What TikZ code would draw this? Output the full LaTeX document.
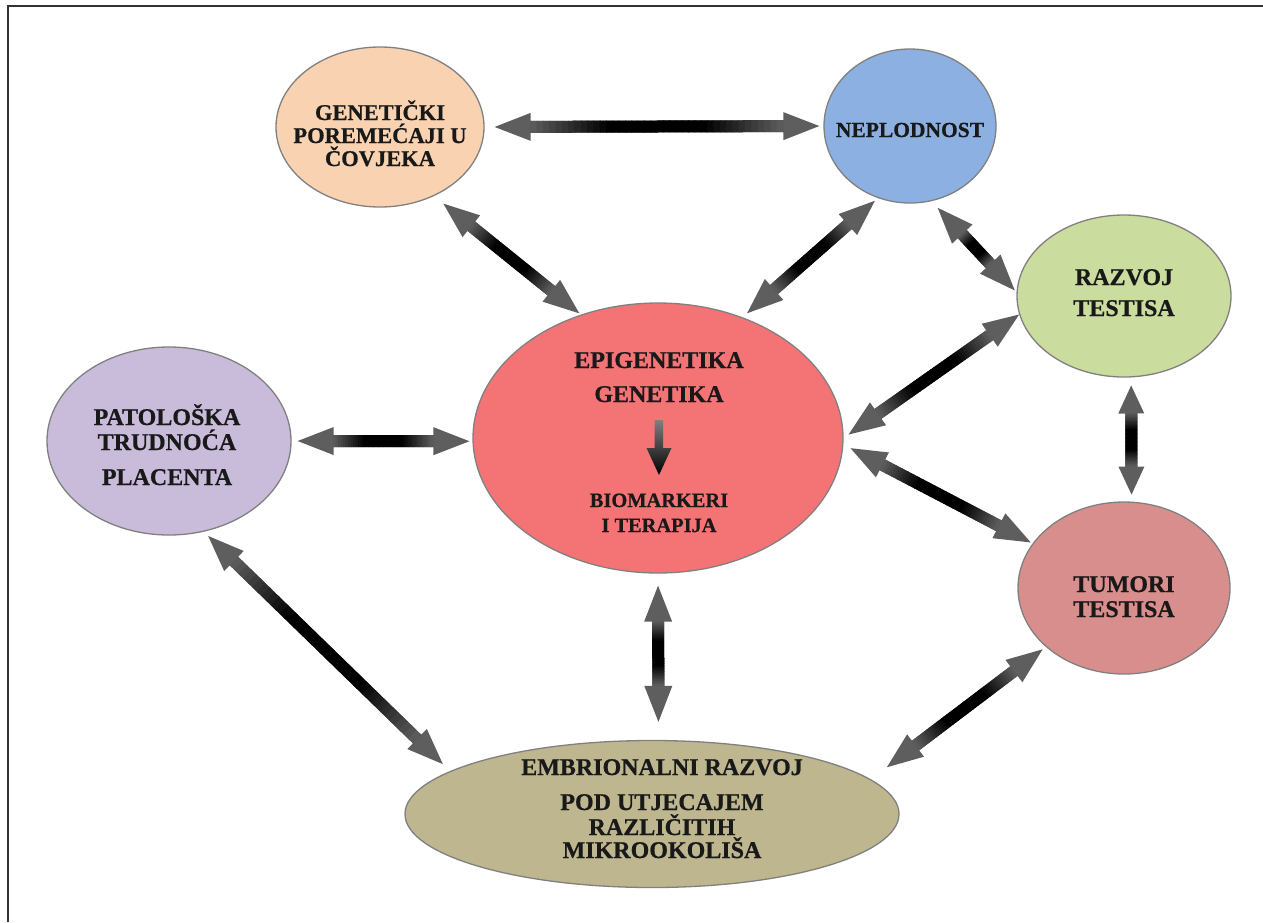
\documentclass[tikz,border=0pt]{standalone}
\usepackage{fontspec}
\setmainfont{Liberation Serif}[BoldFeatures={FakeBold=0.6}]
\usetikzlibrary{shapes.geometric,calc}
\definecolor{cgen}{HTML}{F9D3B1}
\definecolor{cnep}{HTML}{8DB0E2}
\definecolor{craz}{HTML}{CBDC9F}
\definecolor{cpat}{HTML}{C9BCDB}
\definecolor{cepi}{HTML}{F47476}
\definecolor{ctum}{HTML}{D98E8E}
\definecolor{cemb}{HTML}{BDB68E}
\definecolor{agray}{HTML}{5E5E5E}
\tikzset{
  bubble/.style={ellipse, draw=black!50, line width=1.3pt, inner sep=0pt},
  lbl/.style={anchor=base, inner sep=0pt, text=black!90, font=\bfseries\fontsize{24}{26}\selectfont},
  lblg/.style={lbl, font=\bfseries\fontsize{22.5}{24}\selectfont},
  lbln/.style={lbl, font=\bfseries\fontsize{21.5}{23}\selectfont},
  lbls/.style={lbl, font=\bfseries\fontsize{20.4}{22}\selectfont},
}
\def\bhl{36}\def\bhw{14}\def\bsw{6}
\newcommand\barrow[4]{%
  \path (#1) coordinate (bA) (#2) coordinate (bB);
  \pgfpointdiff{\pgfpointanchor{bA}{center}}{\pgfpointanchor{bB}{center}}%
  \pgfgetlastxy{\bdx}{\bdy}%
  \pgfmathsetmacro\bang{atan2(\bdy,\bdx)}%
  \pgfmathsetmacro\blen{veclen(\bdx,\bdy)}%
  \pgfmathsetmacro\bxa{#3}%
  \pgfmathsetmacro\bxb{\blen-(#4)}%
  \pgfmathsetmacro\bha{\bxa+\bhl}%
  \pgfmathsetmacro\bhb{\bxb-\bhl}%
  \begin{scope}[shift={(bA)}, rotate=\bang]
    \fill[agray] (\bxa pt,0pt) -- (\bha pt,\bhw pt) -- (\bha pt,\bsw pt) -- (\bhb pt,\bsw pt) -- (\bhb pt,\bhw pt) -- (\bxb pt,0pt) -- (\bhb pt,-\bhw pt) -- (\bhb pt,-\bsw pt) -- (\bha pt,-\bsw pt) -- (\bha pt,-\bhw pt) -- cycle;
    \foreach \i in {0,...,39}{%
      \pgfmathsetmacro\ta{\bha+(\bhb-\bha)*\i/40-0.4}%
      \pgfmathsetmacro\tb{\bha+(\bhb-\bha)*(\i+1)/40+0.4}%
      \pgfmathsetmacro\dk{100*min(1,1.6*(1-abs(2*(\i+0.5)/40-1)))}%
      \fill[black!\dk!agray] (\ta pt,-\bsw pt) rectangle (\tb pt,\bsw pt);
    }
  \end{scope}
}
\begin{document}
\begin{tikzpicture}[x=1pt,y=-1pt]
\useasboundingbox (0,0) rectangle (1263,922);
\fill[white] (0,0) rectangle (1263,922);
\draw[line width=2pt, black!80] (8,922) -- (8,6) -- (1263,6);

% ellipses
\node[bubble, fill=cgen, minimum width=208pt, minimum height=160pt] (gen) at (380,127) {};
\node[bubble, fill=cnep, minimum width=172pt, minimum height=154pt] (nep) at (910,126) {};
\node[bubble, fill=craz, minimum width=214pt, minimum height=162pt] (raz) at (1124,296) {};
\node[bubble, fill=cpat, minimum width=244pt, minimum height=188pt] (pat) at (169,441) {};
\node[bubble, fill=cepi, minimum width=370pt, minimum height=270pt] (epi) at (658,438) {};
\node[bubble, fill=ctum, minimum width=212pt, minimum height=172pt] (tum) at (1124,588) {};
\node[bubble, fill=cemb, minimum width=494pt, minimum height=147pt] (emb) at (652,814) {};

% texts
\node[lblg] (gen1) at (380,120) {GENETIČKI};
\node[lblg] (gen2) at (380,143) {POREMEĆAJI U};
\node[lblg] (gen3) at (380,166) {ČOVJEKA};
\node[lbln] (nep1) at (910,137) {NEPLODNOST};
\node[lbl] (raz1) at (1124,285) {RAZVOJ};
\node[lbl] (raz2) at (1124,316) {TESTISA};
\node[lbl] (tum1) at (1124,592) {TUMORI};
\node[lbl] (tum2) at (1124,617) {TESTISA};
\node[lbl] (pat1) at (167,425) {PATOLOŠKA};
\node[lbl] (pat2) at (167,450) {TRUDNOĆA};
\node[lbl] (pat3) at (167,485) {PLACENTA};
\node[lbl] (epi1) at (659,368) {EPIGENETIKA};
\node[lbl] (epi2) at (659,402) {GENETIKA};
\node[lbls] (epi3) at (659,507) {BIOMARKERI};
\node[lbls] (epi4) at (659,532) {I TERAPIJA};
\node[lbl] (emb1) at (662,775) {EMBRIONALNI RAZVOJ};
\node[lbl] (emb2) at (662,810) {POD UTJECAJEM};
\node[lbl] (emb3) at (662,835) {RAZLIČITIH};
\node[lbl] (emb4) at (662,858) {MIKROOKOLIŠA};

% small arrow inside center ellipse
\shade[top color=black!50, bottom color=black] (654.5,420) -- (663,420) -- (663,448) -- (671.5,448) -- (659,475) -- (646.5,448) -- (654.5,448) -- cycle;

% connectors
\barrow{gen.east}{nep.west}{10}{4}
\barrow{gen.-52.5}{epi.122.4}{12}{2}
\barrow{nep.-114.7}{epi.55.1}{4}{6}
\barrow{nep.-74}{raz.178}{9}{2}
\barrow{raz.190.7}{epi.0.6}{0}{6}
{\def\bhl{28}\def\bhw{13}\barrow{raz.-85}{tum.85.3}{8}{7}}
\barrow{epi.-2.5}{tum.154.9}{8}{2}
\barrow{pat.east}{epi.181}{6}{3}
\barrow{pat.-69.6}{emb.168.7}{6}{10}
\barrow{epi.-90}{emb.85.3}{12}{18}
\barrow{tum.217.9}{emb.9.2}{4}{20}
\end{tikzpicture}
\end{document}
